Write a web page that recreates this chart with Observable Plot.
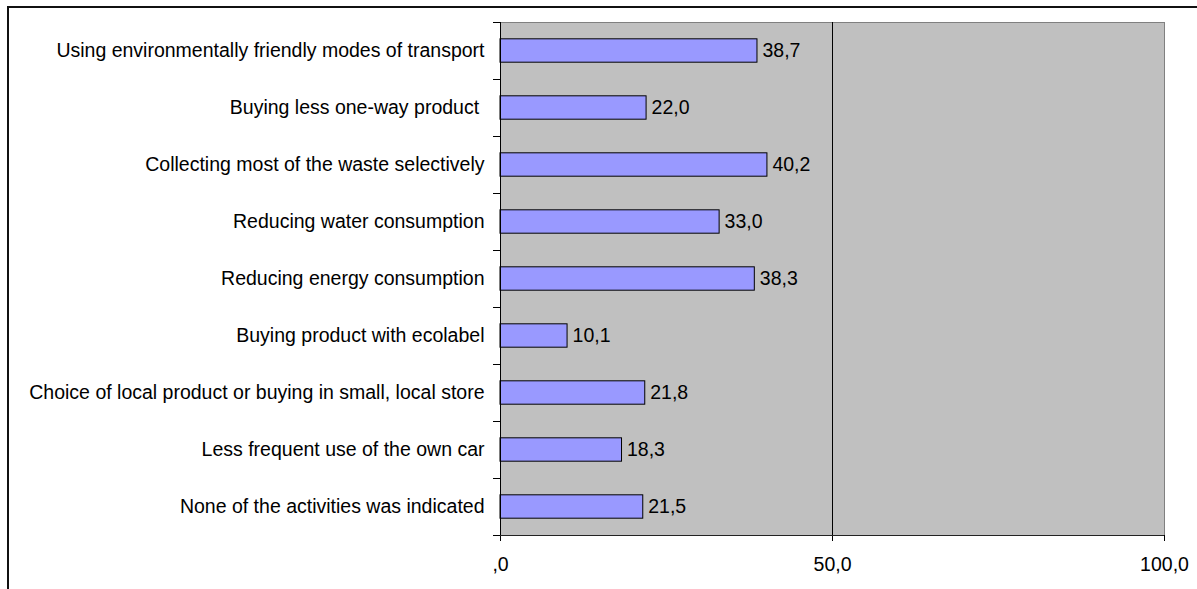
<!DOCTYPE html>
<html>
<head>
<meta charset="utf-8">
<script src="https://cdn.jsdelivr.net/npm/d3@7"></script>
<script src="https://cdn.jsdelivr.net/npm/@observablehq/plot@0.6"></script>
<style>
  html, body { margin: 0; padding: 0; background: #fff; }
  svg { display: block; }
</style>
</head>
<body>
<script>
// Activities indicated by respondents (percent), top to bottom
const categories = [
  "Using environmentally friendly modes of transport",
  "Buying less one-way product\u00a0",
  "Collecting most of the waste selectively",
  "Reducing water consumption",
  "Reducing energy consumption",
  "Buying product with ecolabel",
  "Choice of local product or buying in small, local store",
  "Less frequent use of the own car",
  "None of the activities was indicated"
];
const values = [38.7, 22.0, 40.2, 33.0, 38.3, 10.1, 21.8, 18.3, 21.5];
const xTicks = [0, 50, 100];

// Decimal comma, no leading zero for zero (",0", "50,0")
const fmt = v => (v === 0 ? ",0" : v.toFixed(1).replace(".", ","));

// Each category sits in the middle of a unit-wide slot on the y axis
const rows = categories.map((c, i) => ({category: c, value: values[i], pos: i + 0.5}));
const slotEdges = d3.range(0, categories.length + 1);
const halfBar = 0.205;

const chart = Plot.plot({
  width: 1197,
  height: 589,
  marginLeft: 500,
  marginRight: 33,
  marginTop: 22,
  marginBottom: 54,
  style: {
    fontFamily: "'Liberation Sans', Arial, sans-serif",
    fontSize: "19.5px",
    color: "black",
    background: "white"
  },
  x: {domain: [0, 100]},
  y: {domain: [0, categories.length], reverse: true},
  marks: [
    Plot.frame({fill: "#c0c0c0", stroke: "#808080"}),
    Plot.ruleX([50], {stroke: "black"}),
    Plot.rectX(rows, {
      x1: 0,
      x2: "value",
      y1: d => d.pos - halfBar,
      y2: d => d.pos + halfBar,
      fill: "#9999ff",
      stroke: "black",
      strokeWidth: 1
    }),
    Plot.text(rows, {x: "value", y: "pos", text: d => fmt(d.value), textAnchor: "start", dx: 5, fill: "black"}),
    Plot.text(rows, {x: 0, y: "pos", text: "category", textAnchor: "end", dx: -16, fill: "black"}),
    Plot.axisY({ticks: slotEdges, tickFormat: () => "", tickSize: 7, stroke: "black", label: null}),
    Plot.axisX({ticks: xTicks, tickFormat: fmt, tickSize: 6, tickPadding: 16, stroke: "black", label: null}),
    Plot.ruleX([0], {stroke: "black"}),
    Plot.ruleY([categories.length], {stroke: "#222"})
  ]
});

// Outer chart border (left and top edges)
d3.select(chart).append("path")
  .attr("d", "M8,589V7H1197")
  .attr("fill", "none")
  .attr("stroke", "#111")
  .attr("stroke-width", 2);

document.body.appendChild(chart);
</script>
</body>
</html>
